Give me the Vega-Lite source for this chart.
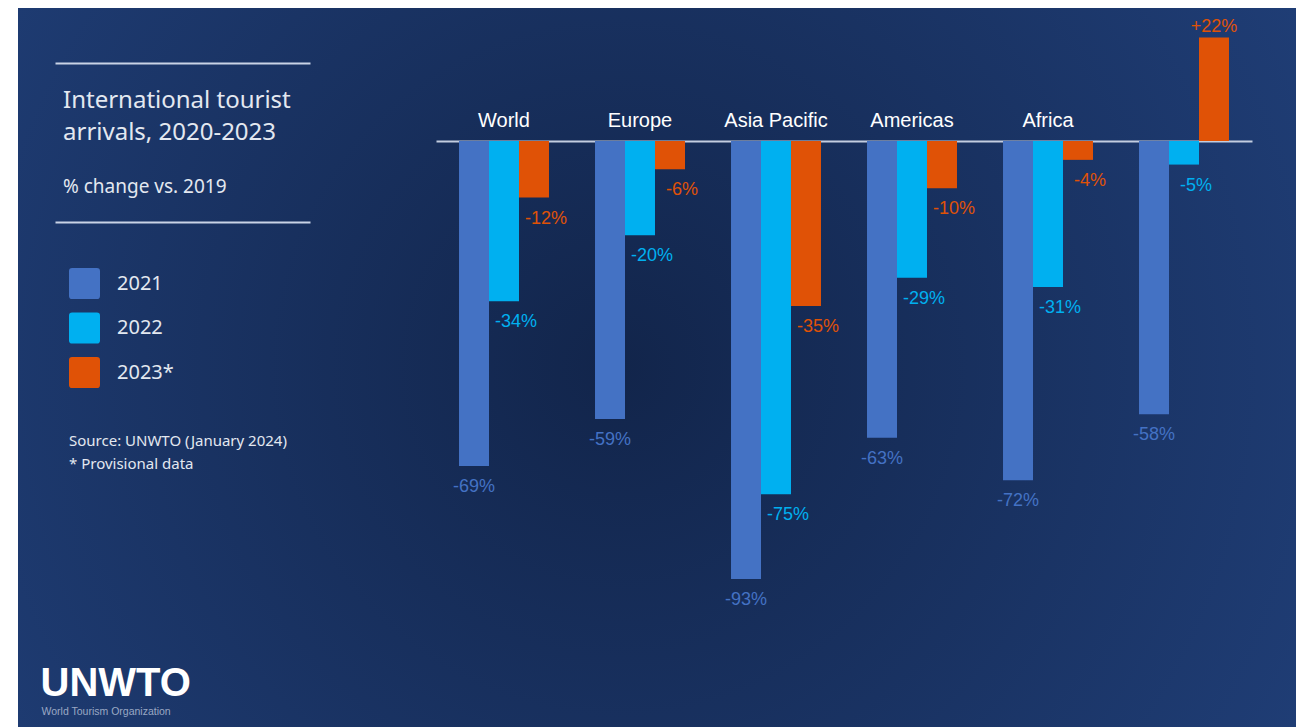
{
  "$schema": "https://vega.github.io/schema/vega-lite/v6.json",
  "width": 1278,
  "height": 719,
  "autosize": {"type": "none"},
  "padding": {"left": 18, "top": 8, "right": 0, "bottom": 0},
  "background": "#ffffff",
  "view": {
    "stroke": null,
    "fill": {
      "gradient": "radial",
      "x1": 0.47, "y1": 0.5, "r1": 0,
      "x2": 0.47, "y2": 0.5, "r2": 0.6,
      "stops": [
        {"offset": 0, "color": "#12254b"},
        {"offset": 1, "color": "#1f3d75"}
      ]
    }
  },
  "title": {
    "text": ["International tourist", "arrivals, 2020-2023"],
    "subtitle": "% change vs. 2019",
    "anchor": "start",
    "frame": "group",
    "orient": "top",
    "offset": 0,
    "dx": 45,
    "dy": 189,
    "font": "Noto Sans",
    "fontSize": 24,
    "fontWeight": "normal",
    "color": "#e3e8f0",
    "lineHeight": 32,
    "limit": 600,
    "subtitleFont": "Noto Sans",
    "subtitleFontSize": 19,
    "subtitleColor": "#e3e8f0",
    "subtitlePadding": 33
  },
  "data": {
    "values": [
      {"region": "World", "year": "2021", "value": -69, "label": "-69%"},
      {"region": "World", "year": "2022", "value": -34, "label": "-34%"},
      {"region": "World", "year": "2023*", "value": -12, "label": "-12%"},
      {"region": "Europe", "year": "2021", "value": -59, "label": "-59%"},
      {"region": "Europe", "year": "2022", "value": -20, "label": "-20%"},
      {"region": "Europe", "year": "2023*", "value": -6, "label": "-6%"},
      {"region": "Asia Pacific", "year": "2021", "value": -93, "label": "-93%"},
      {"region": "Asia Pacific", "year": "2022", "value": -75, "label": "-75%"},
      {"region": "Asia Pacific", "year": "2023*", "value": -35, "label": "-35%"},
      {"region": "Americas", "year": "2021", "value": -63, "label": "-63%"},
      {"region": "Americas", "year": "2022", "value": -29, "label": "-29%"},
      {"region": "Americas", "year": "2023*", "value": -10, "label": "-10%"},
      {"region": "Africa", "year": "2021", "value": -72, "label": "-72%"},
      {"region": "Africa", "year": "2022", "value": -31, "label": "-31%"},
      {"region": "Africa", "year": "2023*", "value": -4, "label": "-4%"},
      {"region": "Middle East", "year": "2021", "value": -58, "label": "-58%"},
      {"region": "Middle East", "year": "2022", "value": -5, "label": "-5%"},
      {"region": "Middle East", "year": "2023*", "value": 22, "label": "+22%"}
    ]
  },
  "encoding": {
    "x": {
      "field": "region",
      "type": "nominal",
      "sort": ["World", "Europe", "Asia Pacific", "Americas", "Africa", "Middle East"],
      "scale": {"range": [418, 1234], "paddingInner": 0, "paddingOuter": 0},
      "axis": {
        "orient": "top",
        "offset": -133,
        "grid": false,
        "domain": true,
        "domainColor": "#c3cde0",
        "domainWidth": 2,
        "ticks": false,
        "tickSize": 0,
        "labelPadding": 15,
        "labelBaseline": "alphabetic",
        "labelAngle": 0,
        "labelFont": "Liberation Sans",
        "labelFontSize": 20,
        "labelColor": "#ffffff",
        "labelExpr": "datum.value == 'Middle East' ? '' : datum.value",
        "title": "World Tourism Organization",
        "titleX": 23,
        "titleY": 573,
        "titleAlign": "left",
        "titleBaseline": "alphabetic",
        "titleFont": "Liberation Sans",
        "titleFontSize": 10.5,
        "titleFontWeight": "normal",
        "titleColor": "#9aa8c4"
      }
    },
    "xOffset": {
      "field": "year",
      "type": "nominal",
      "sort": ["2021", "2022", "2023*"],
      "scale": {"paddingInner": 0, "paddingOuter": 0.767}
    },
    "y": {
      "field": "value",
      "type": "quantitative",
      "stack": null,
      "scale": {"domain": [-124.4, 28.24], "nice": false, "zero": false},
      "axis": {
        "orient": "left",
        "offset": -292,
        "values": [16.56, -17.2],
        "labels": false,
        "domain": false,
        "grid": false,
        "ticks": true,
        "tickSize": 255,
        "tickWidth": 2,
        "tickColor": "#c9d3e6",
        "title": "UNWTO",
        "titleX": -270,
        "titleY": 687,
        "titleAngle": 0,
        "titleAlign": "left",
        "titleBaseline": "alphabetic",
        "titleFont": "Liberation Sans",
        "titleFontSize": 40,
        "titleFontWeight": "bold",
        "titleColor": "#ffffff"
      }
    },
    "color": {
      "field": "year",
      "type": "nominal",
      "scale": {"domain": ["2021", "2022", "2023*"], "range": ["#4472c4", "#00b0f0", "#e05206"]},
      "legend": {
        "orient": "none",
        "legendX": 51,
        "legendY": 260,
        "padding": 0,
        "symbolType": "M-0.8,-1H0.8Q1,-1,1,-0.8V0.8Q1,1,0.8,1H-0.8Q-1,1,-1,0.8V-0.8Q-1,-1,-0.8,-1Z",
        "symbolSize": 961,
        "symbolStrokeWidth": 0,
        "symbolOpacity": 1,
        "labelFont": "Noto Sans",
        "labelFontSize": 20,
        "labelColor": "#e3e8f0",
        "labelOffset": 17,
        "rowPadding": 13.5,
        "title": ["Source: UNWTO (January 2024)", "* Provisional data"],
        "titleOrient": "bottom",
        "titlePadding": 46,
        "titleFont": "Noto Sans",
        "titleFontSize": 15,
        "titleFontWeight": "normal",
        "titleColor": "#e3e8f0",
        "titleLineHeight": 23,
        "titleBaseline": "top",
        "titleAnchor": "start",
        "titleLimit": 400
      }
    }
  },
  "layer": [
    {"mark": {"type": "bar"}},
    {
      "transform": [{"filter": "datum.value < 0 && datum.year == '2021'"}],
      "mark": {"type": "text", "font": "Liberation Sans", "fontSize": 18, "baseline": "top", "align": "center", "dy": 12},
      "encoding": {"text": {"field": "label"}}
    },
    {
      "transform": [{"filter": "datum.value < 0 && datum.year != '2021'"}],
      "mark": {"type": "text", "font": "Liberation Sans", "fontSize": 18, "baseline": "top", "align": "center", "dy": 12, "dx": 12},
      "encoding": {"text": {"field": "label"}}
    },
    {
      "transform": [{"filter": "datum.value > 0"}],
      "mark": {"type": "text", "font": "Liberation Sans", "fontSize": 18, "baseline": "alphabetic", "align": "center", "dy": -5},
      "encoding": {"text": {"field": "label"}}
    }
  ]
}
